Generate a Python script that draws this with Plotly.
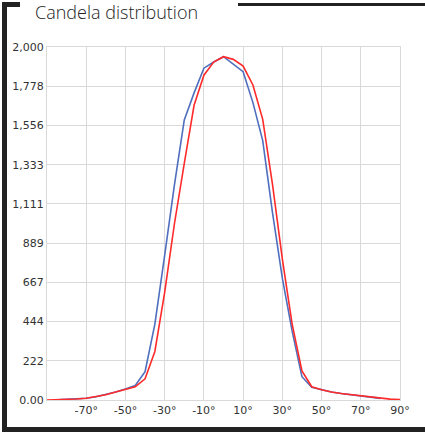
import plotly.graph_objects as go

angles_red = list(range(-90, 95, 5))
candela_red = [0, 1, 3, 6, 10, 18, 30, 45, 60, 75, 120, 275, 610, 1000, 1340, 1670, 1840, 1915, 1945,
               1930, 1892, 1785, 1590, 1220, 800, 430, 165, 75, 58, 45, 37, 30, 22, 16, 10, 5, 2]
angles_blue = list(range(-85, 85, 5))
candela_blue = [1, 3, 6, 10, 18, 30, 45, 62, 82, 160, 430, 820, 1220, 1587, 1740, 1880, 1915, 1945,
                1905, 1860, 1685, 1470, 1060, 690, 390, 132, 72, 57, 45, 37, 29, 22, 15, 9]

x_tickvals = [-70, -50, -30, -10, 10, 30, 50, 70, 90]
x_ticktext = ["-70°", "-50°", "-30°", "-10°", "10°", "30°", "50°", "70°", "90°"]
y_tickvals = [i * 2000 / 9 for i in range(10)]
y_ticktext = ["0.00", "222", "444", "667", "889", "1,111", "1,333", "1,556", "1,778", "2,000"]

fig = go.Figure()
fig.add_trace(go.Scatter(x=angles_blue, y=candela_blue, mode="lines",
                         line=dict(color="#4f6fbe", width=1.6), showlegend=False))
fig.add_trace(go.Scatter(x=angles_red, y=candela_red, mode="lines",
                         line=dict(color="#ff2a2a", width=1.6), showlegend=False))

L, T, W, H = 47, 47, 353, 353


def px(p):
    return (p - L) / W


def py(q):
    return (T + H - q) / H


dark = "#222222"


def bar(x0, x1, y0, y1):
    return dict(type="rect", xref="paper", yref="paper", layer="above",
                x0=px(x0), x1=px(x1), y0=py(y0), y1=py(y1),
                fillcolor=dark, line=dict(width=0))


shapes = [
    bar(2, 7, 2, 432),      # left
    bar(2, 425, 427, 432),  # bottom
    bar(2, 20, 2, 7),       # top-left stub
    bar(238, 425, 3, 6),    # top-right
]

fig.update_layout(
    width=425, height=433,
    margin=dict(l=L, r=425 - L - W, t=T, b=433 - T - H),
    paper_bgcolor="white", plot_bgcolor="white",
    shapes=shapes,
    annotations=[dict(text="Candela distribution", xref="paper", yref="paper",
                      x=px(33), y=py(12), xanchor="left", yanchor="middle", showarrow=False,
                      font=dict(family="Open Sans", size=18, color=dark, weight=300))],
    font=dict(family="DejaVu Sans", size=11, color="#333333"),
)
fig.update_xaxes(range=[-90, 90], tickvals=x_tickvals, ticktext=x_ticktext, automargin=False,
                 showgrid=True, gridcolor="#d9d9d9", gridwidth=1,
                 showline=True, linecolor="#d9d9d9", linewidth=1, mirror=True,
                 zeroline=False, ticks="", tickfont=dict(size=11, color="#333333"))
fig.update_yaxes(range=[0, 2000], tickvals=y_tickvals, ticktext=y_ticktext, automargin=False,
                 showgrid=True, gridcolor="#d9d9d9", gridwidth=1,
                 showline=True, linecolor="#d9d9d9", linewidth=1, mirror=True,
                 zeroline=False, ticks="", tickfont=dict(size=11, color="#333333"))

fig.write_html("out.html", config={"displayModeBar": False},
               post_script="document.body.style.margin='0';")
